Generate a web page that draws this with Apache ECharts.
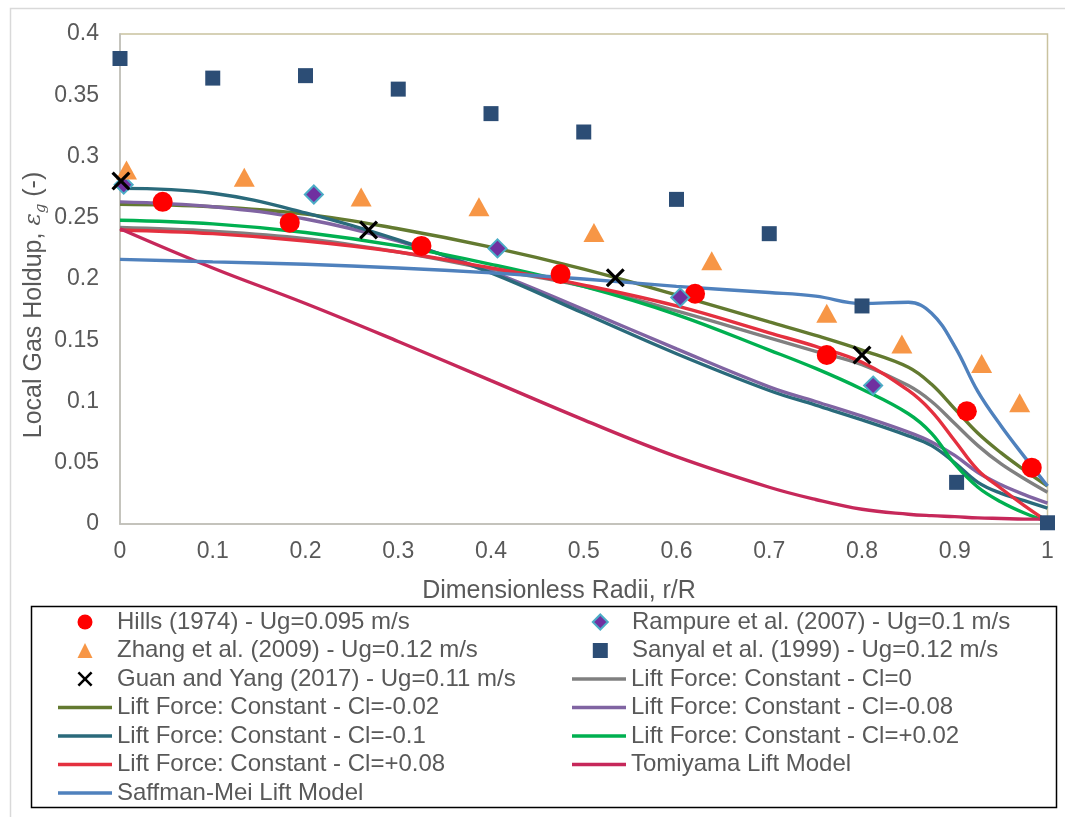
<!DOCTYPE html>
<html>
<head>
<meta charset="utf-8">
<script src="https://cdn.jsdelivr.net/npm/echarts@6/dist/echarts.min.js"></script>
<style>
  html, body { margin: 0; padding: 0; background: #fff; }
  #chart { width: 1065px; height: 817px; }
</style>
</head>
<body>
<div id="chart"></div>
<script>
const FONT = '"Liberation Sans", Arial, Helvetica, sans-serif';
const TEXT = '#595959';

// ---- Experimental radial gas-holdup profiles ----
const hillsR   = [0.046, 0.183, 0.325, 0.475, 0.620, 0.762, 0.913, 0.983];
const hillsV   = [0.263, 0.246, 0.227, 0.204, 0.188, 0.138, 0.092, 0.046];

const rampureR = [0.004, 0.209, 0.407, 0.604, 0.812];
const rampureV = [0.277, 0.269, 0.225, 0.185, 0.113];

const zhangR   = [0.007, 0.134, 0.260, 0.387, 0.511, 0.638, 0.762, 0.843, 0.929, 0.970];
const zhangV   = [0.289, 0.283, 0.267, 0.259, 0.238, 0.215, 0.172, 0.147, 0.131, 0.099];

const sanyalR  = [0, 0.1, 0.2, 0.3, 0.4, 0.5, 0.6, 0.7, 0.8, 0.902, 1.0];
const sanyalV  = [0.380, 0.364, 0.366, 0.355, 0.335, 0.320, 0.265, 0.237, 0.178, 0.034, 0.001];

const guanR    = [0.001, 0.268, 0.534, 0.800];
const guanV    = [0.280, 0.240, 0.201, 0.138];

// ---- Simulated profiles (CFD), sampled at common radii ----
const curveR      = [0, 0.1, 0.2, 0.3, 0.4, 0.5, 0.6, 0.7, 0.75, 0.8, 0.85, 0.875, 0.9, 0.925, 0.95, 0.975, 1];
const clZero      = [0.242, 0.239, 0.233, 0.222, 0.208, 0.194, 0.174, 0.152, 0.141, 0.130, 0.113, 0.100, 0.082, 0.064, 0.049, 0.037, 0.026];
const clMinus002  = [0.261, 0.259, 0.253, 0.241, 0.226, 0.208, 0.187, 0.165, 0.154, 0.142, 0.128, 0.114, 0.094, 0.074, 0.058, 0.044, 0.031];
const clMinus008  = [0.263, 0.259, 0.249, 0.231, 0.206, 0.175, 0.143, 0.112, 0.100, 0.088, 0.075, 0.067, 0.056, 0.042, 0.032, 0.024, 0.017];
const clMinus01   = [0.274, 0.270, 0.254, 0.232, 0.205, 0.172, 0.139, 0.109, 0.097, 0.085, 0.072, 0.064, 0.050, 0.034, 0.025, 0.019, 0.013];
const clPlus002   = [0.248, 0.245, 0.238, 0.227, 0.212, 0.194, 0.171, 0.142, 0.127, 0.110, 0.090, 0.074, 0.049, 0.030, 0.018, 0.009, 0.002];
const clPlus008   = [0.240, 0.237, 0.231, 0.222, 0.209, 0.195, 0.178, 0.156, 0.145, 0.132, 0.109, 0.092, 0.068, 0.044, 0.029, 0.015, 0.002];
const tomiyama    = [0.241, 0.209, 0.180, 0.149, 0.117, 0.085, 0.055, 0.030, 0.020, 0.012, 0.008, 0.0068, 0.006, 0.005, 0.0045, 0.004, 0.004];
const saffmanMei  = [0.216, 0.214, 0.212, 0.209, 0.205, 0.200, 0.194, 0.189, 0.186, 0.180, 0.181, 0.172, 0.145, 0.108, 0.080, 0.055, 0.031];

// ---- Axis ranges / ticks ----
const xMin = 0, xMax = 1, xStep = 0.1;
const yMin = 0, yMax = 0.4, yStep = 0.05;

const pairs = (xs, ys) => xs.map((x, i) => [x, ys[i]]);

const CROSS = 'path://M0,2.4 L2.4,0 L10,7.6 L17.6,0 L20,2.4 L12.4,10 L20,17.6 L17.6,20 L10,12.4 L2.4,20 L0,17.6 L7.6,10 Z';

const N = {
  hills:   'Hills (1974) - Ug=0.095 m/s',
  rampure: 'Rampure et al. (2007) - Ug=0.1 m/s',
  zhang:   'Zhang et al. (2009) - Ug=0.12 m/s',
  sanyal:  'Sanyal et al. (1999) - Ug=0.12 m/s',
  guan:    'Guan and Yang (2017) - Ug=0.11 m/s',
  c0:      'Lift Force: Constant - Cl=0',
  cm002:   'Lift Force: Constant - Cl=-0.02',
  cm008:   'Lift Force: Constant - Cl=-0.08',
  cm01:    'Lift Force: Constant - Cl=-0.1',
  cp002:   'Lift Force: Constant - Cl=+0.02',
  cp008:   'Lift Force: Constant - Cl=+0.08',
  tomi:    'Tomiyama Lift Model',
  saff:    'Saffman-Mei Lift Model'
};

function lineSeries(name, values, color) {
  return {
    type: 'line', name, data: pairs(curveR, values),
    smooth: 0.4, symbol: 'none', z: 3,
    lineStyle: { color, width: 3.4 },
    itemStyle: { color }
  };
}
function scatterSeries(name, xs, ys, symbol, size, style) {
  return {
    type: 'scatter', name, data: pairs(xs, ys),
    symbol, symbolSize: size, z: 5,
    itemStyle: Object.assign({ opacity: 1 }, style)
  };
}

const series = [
  lineSeries(N.c0,    clZero,     '#808080'),
  lineSeries(N.cm002, clMinus002, '#637a30'),
  lineSeries(N.cm008, clMinus008, '#8064a2'),
  lineSeries(N.cm01,  clMinus01,  '#2a6a7b'),
  lineSeries(N.cp002, clPlus002,  '#00b050'),
  lineSeries(N.cp008, clPlus008,  '#e4303f'),
  lineSeries(N.tomi,  tomiyama,   '#c6285a'),
  lineSeries(N.saff,  saffmanMei, '#4f81bd'),
  scatterSeries(N.hills,   hillsR,   hillsV,   'circle',   20,       { color: '#ff0000' }),
  scatterSeries(N.rampure, rampureR, rampureV, 'diamond',  18,       { color: '#7030a0', borderColor: '#4bacc6', borderWidth: 2 }),
  scatterSeries(N.zhang,   zhangR,   zhangV,   'triangle', [21, 19], { color: '#f79646' }),
  scatterSeries(N.sanyal,  sanyalR,  sanyalV,  'rect',     15,       { color: '#2c4d75' }),
  scatterSeries(N.guan,    guanR,    guanV,    CROSS,      19,       { color: '#000000' })
];

const legendText = { color: TEXT, fontFamily: FONT, fontSize: 24, lineHeight: 24 };
const ROW_GAP = 4.5;

const chart = echarts.init(document.getElementById('chart'), null, { renderer: 'canvas' });
chart.setOption({
  animation: false,
  backgroundColor: '#ffffff',
  textStyle: { fontFamily: FONT },
  grid: {
    left: 120, right: 17.5, top: 34, bottom: 293,
    show: true, borderColor: '#c9c29f', borderWidth: 1.5, backgroundColor: 'transparent'
  },
  xAxis: {
    type: 'value', min: xMin, max: xMax, interval: xStep,
    axisLine: { show: true, lineStyle: { color: '#bfbfbf', width: 1.5 } },
    axisTick: { show: false },
    splitLine: { show: false },
    axisLabel: { color: TEXT, fontSize: 23, fontFamily: FONT, margin: 16,
                 formatter: v => String(+v.toFixed(2)) }
  },
  yAxis: {
    type: 'value', min: yMin, max: yMax, interval: yStep,
    axisLine: { show: true, lineStyle: { color: '#bfbfbf', width: 1.5 } },
    axisTick: { show: false },
    splitLine: { show: false },
    axisLabel: { color: TEXT, fontSize: 23, fontFamily: FONT, margin: 21,
                 formatter: v => String(+v.toFixed(2)) }
  },
  legend: [
    { orient: 'vertical', left: 77.5, top: 610, padding: 0, itemGap: ROW_GAP,
      itemWidth: 15, itemHeight: 15, selectedMode: false,
      textStyle: Object.assign({ padding: [0, 0, 0, 19.5] }, legendText),
      data: [N.hills, N.zhang, N.guan] },
    { orient: 'vertical', left: 591.8, top: 610, padding: 0, itemGap: ROW_GAP,
      itemWidth: 15, itemHeight: 15, selectedMode: false,
      textStyle: Object.assign({ padding: [0, 0, 0, 19.2] }, legendText),
      data: [N.rampure, N.sanyal] },
    { orient: 'vertical', left: 58, top: 695.5, padding: 0, itemGap: ROW_GAP,
      itemWidth: 54, itemHeight: 3.5, selectedMode: false, textStyle: legendText,
      data: [N.cm002, N.cm01, N.cp008, N.saff].map(n => ({ name: n, icon: 'rect' })) },
    { orient: 'vertical', left: 572, top: 667, padding: 0, itemGap: ROW_GAP,
      itemWidth: 54, itemHeight: 3.5, selectedMode: false, textStyle: legendText,
      data: [N.c0, N.cm008, N.cp002, N.tomi].map(n => ({ name: n, icon: 'rect' })) }
  ],
  graphic: [
    { type: 'rect', z: -10, silent: true,
      shape: { x: 10.5, y: 8.5, width: 1200, height: 1000 },
      style: { fill: 'none', stroke: '#d9d9d9', lineWidth: 1.5 } },
    { type: 'rect', z: -5, silent: true,
      shape: { x: 31.5, y: 606.5, width: 1025, height: 201 },
      style: { fill: '#ffffff', stroke: '#000000', lineWidth: 1.5 } },
    { type: 'text', silent: true, x: 559, y: 591,
      style: { text: 'Dimensionless Radii, r/R', fill: TEXT, fontFamily: FONT, fontSize: 25,
               align: 'center', verticalAlign: 'middle' } },
    { type: 'text', silent: true, x: 34, y: 305, rotation: Math.PI / 2,
      style: {
        text: '{a|Local Gas Holdup, }{e|ε}{s|g}{a| (-)}',
        align: 'center', verticalAlign: 'middle',
        rich: {
          a: { fill: TEXT, fontFamily: FONT, fontSize: 25, lineHeight: 30 },
          e: { fill: TEXT, fontFamily: '"DejaVu Serif", serif', fontStyle: 'italic', fontSize: 23, lineHeight: 30 },
          s: { fill: TEXT, fontFamily: '"DejaVu Serif", serif', fontStyle: 'italic', fontSize: 15, lineHeight: 18, verticalAlign: 'bottom' }
        }
      } }
  ],
  series
});
</script>
</body>
</html>
